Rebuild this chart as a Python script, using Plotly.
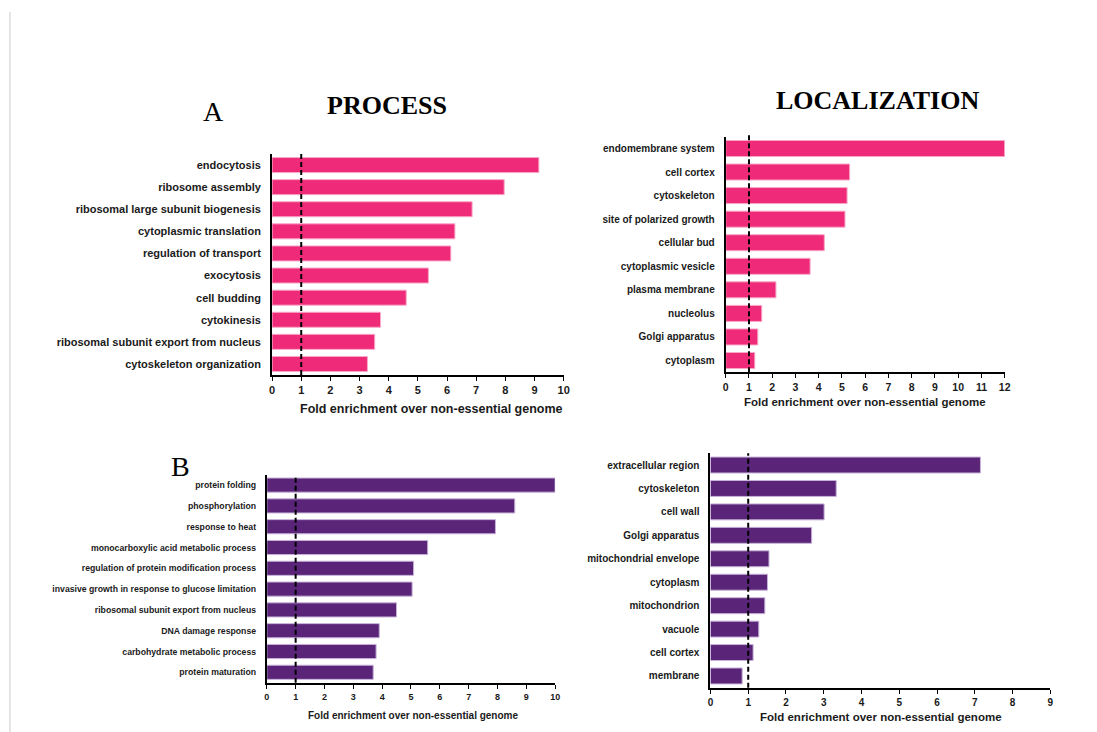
import plotly.graph_objects as go

W, H = 1097, 732

# ---------------- data ----------------
proc_a_labels = ["endocytosis", "ribosome assembly", "ribosomal large subunit biogenesis",
                 "cytoplasmic translation", "regulation of transport", "exocytosis",
                 "cell budding", "cytokinesis", "ribosomal subunit export from nucleus",
                 "cytoskeleton organization"]
proc_a_values = [9.15, 7.96, 6.86, 6.27, 6.13, 5.36, 4.60, 3.72, 3.52, 3.27]

loc_a_labels = ["endomembrane system", "cell cortex", "cytoskeleton", "site of polarized growth",
                "cellular bud", "cytoplasmic vesicle", "plasma membrane", "nucleolus",
                "Golgi apparatus", "cytoplasm"]
loc_a_values = [12.0, 5.33, 5.22, 5.13, 4.24, 3.63, 2.16, 1.55, 1.38, 1.25]

proc_b_labels = ["protein folding", "phosphorylation", "response to heat",
                 "monocarboxylic acid metabolic process", "regulation of protein modification process",
                 "invasive growth in response to glucose limitation",
                 "ribosomal subunit export from nucleus", "DNA damage response",
                 "carbohydrate metabolic process", "protein maturation"]
proc_b_values = [10.0, 8.6, 7.93, 5.58, 5.09, 5.04, 4.50, 3.90, 3.79, 3.69]

loc_b_labels = ["extracellular region", "cytoskeleton", "cell wall", "Golgi apparatus",
                "mitochondrial envelope", "cytoplasm", "mitochondrion", "vacuole",
                "cell cortex", "membrane"]
loc_b_values = [7.15, 3.33, 3.01, 2.68, 1.55, 1.51, 1.44, 1.28, 1.13, 0.84]

x_max = [10, 12, 10, 9]
threshold = 1.0
axis_title = "Fold enrichment over non-essential genome"

# ---------------- style / layout ----------------
PINK, PINK_EDGE = "#EF2A78", "#F8A9C8"
PURPLE, PURPLE_EDGE = "#5A2579", "#C7B2D8"
SANS = "Liberation Sans, Arial, sans-serif"
SERIF = "Liberation Serif, Times New Roman, serif"
TXT = "#1a1a1a"

panels = [
    dict(labels=proc_a_labels, values=proc_a_values, box=(271.3, 565.3, 154.0, 375.0),
         color=PINK, edge=PINK_EDGE, lab=11, tick=11, title_xy=(432, 409), title_size=12.5,
         dash_top=1.0),
    dict(labels=loc_a_labels, values=loc_a_values, box=(728.7, 1010.0, 136.7, 372.3),
         color=PINK, edge=PINK_EDGE, lab=10, tick=10.5, title_xy=(869, 401.5), title_size=11.5,
         dash_top=1.017),
    dict(labels=proc_b_labels, values=proc_b_values, box=(266.0, 556.7, 474.7, 682.7),
         color=PURPLE, edge=PURPLE_EDGE, lab=8.7, tick=9, title_xy=(413, 715), title_size=10,
         dash_top=1.0),
    dict(labels=loc_b_labels, values=loc_b_values, box=(713.3, 1056.0, 453.3, 687.7),
         color=PURPLE, edge=PURPLE_EDGE, lab=10, tick=10, title_xy=(885, 716.5), title_size=11.5,
         dash_top=1.0),
]

fig = go.Figure()
shapes, annotations = [], []
layout_axes = {}

for i, p in enumerate(panels):
    suf = "" if i == 0 else str(i + 1)
    xa, ya = f"x{suf}", f"y{suf}"
    fig.add_trace(go.Bar(
        x=p["values"], y=p["labels"], orientation="h", width=0.68,
        marker=dict(color=p["color"], line=dict(color=p["edge"], width=1)),
        xaxis=xa, yaxis=ya, showlegend=False, hoverinfo="x+y",
    ))
    x0, x1, y0, y1 = p["box"]
    layout_axes[f"xaxis{suf}"] = dict(
        domain=[x0 / W, x1 / W], anchor=ya, range=[0, x_max[i]], tick0=0, dtick=1,
        ticks="outside", ticklen=4, tickwidth=1, tickcolor="black",
        showline=True, linecolor="black", linewidth=2, showgrid=False, zeroline=False,
        tickfont=dict(family=SANS, size=p["tick"], color=TXT, weight="bold"),
    )
    layout_axes[f"yaxis{suf}"] = dict(
        domain=[1 - y1 / H, 1 - y0 / H], anchor=xa, type="category",
        categoryorder="array", categoryarray=p["labels"],
        range=[len(p["labels"]) - 0.5, -0.5],
        showline=True, linecolor="black", linewidth=2, ticks="", showgrid=False,
        zeroline=False, ticklabelstandoff=7,
        tickfont=dict(family=SANS, size=p["lab"], color=TXT, weight="bold"),
    )
    shapes.append(dict(type="line", xref=xa, yref=f"{ya} domain", x0=threshold, x1=threshold,
                       y0=0, y1=p["dash_top"], line=dict(color="black", width=2, dash="5px,3px")))
    tx, ty = p["title_xy"]
    annotations.append(dict(text=axis_title, xref="paper", yref="paper", x=tx / W, y=1 - ty / H,
                            xanchor="center", yanchor="middle", showarrow=False,
                            font=dict(family=SANS, size=p["title_size"], color=TXT, weight="bold")))

# panel headings and letters
for text, x, y, size, bold in [("PROCESS", 387, 105, 26, True),
                               ("LOCALIZATION", 882, 100, 26, True),
                               ("A", 212, 111, 28, False),
                               ("B", 178.5, 466, 28, False)]:
    annotations.append(dict(text=text, xref="paper", yref="paper", x=x / W, y=1 - y / H,
                            xanchor="center", yanchor="middle", showarrow=False,
                            font=dict(family=SERIF, size=size, color="black",
                                      weight="bold" if bold else "normal")))

# faint page edge line at left
shapes.append(dict(type="line", xref="paper", yref="paper", x0=7 / W, x1=7 / W,
                   y0=0, y1=1 - 12 / H, line=dict(color="#dcdcdc", width=1.5)))

fig.update_layout(
    width=W, height=H, margin=dict(l=0, r=0, t=0, b=0),
    paper_bgcolor="white", plot_bgcolor="white",
    shapes=shapes, annotations=annotations, bargap=0.3,
    **layout_axes,
)

fig.write_html("out.html")
